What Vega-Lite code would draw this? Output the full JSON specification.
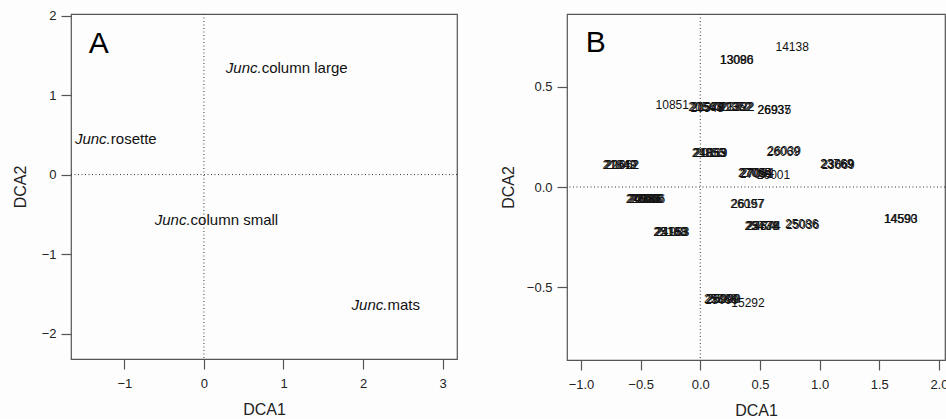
{
  "$schema": "https://vega.github.io/schema/vega-lite/v6.json",
  "padding": {"left": 11, "top": 8, "right": 0, "bottom": 0},
  "spacing": 40,
  "background": "#fdfdfd",
  "config": {
    "font": "Liberation Sans",
    "view": {"stroke": "#555", "strokeWidth": 1.2},
    "axis": {"domain": false, "grid": false, "tickColor": "#555", "tickSize": 10, "tickWidth": 1.2, "labelFont": "Liberation Sans", "labelFontSize": 13, "labelColor": "#222", "titleFont": "Liberation Sans", "titleFontSize": 16, "titleFontWeight": "normal", "titleColor": "#222"},
    "axisX": {"labelPadding": 8, "titlePadding": 11},
    "axisY": {"labelPadding": 5, "titlePadding": 13}
  },
  "datasets": {
    "a_labels": [
      {"x": 0.726, "y": 1.344, "rest": "column large"},
      {"x": -1.17, "y": 0.445, "rest": "rosette"},
      {"x": -0.167, "y": -0.575, "rest": "column small"},
      {"x": 2.306, "y": -1.646, "rest": "mats"}
    ],
    "b_labels": [
      {"x": 0.77, "y": 0.699, "label": "14138"},
      {"x": 0.303, "y": 0.633, "label": "13090"},
      {"x": 0.308, "y": 0.633, "label": "13086"},
      {"x": -0.235, "y": 0.409, "label": "10851"},
      {"x": 0.040, "y": 0.397, "label": "20543"},
      {"x": 0.050, "y": 0.399, "label": "21568"},
      {"x": 0.058, "y": 0.396, "label": "20548"},
      {"x": 0.066, "y": 0.398, "label": "21378"},
      {"x": 0.285, "y": 0.398, "label": "21372"},
      {"x": 0.295, "y": 0.400, "label": "22352"},
      {"x": 0.305, "y": 0.398, "label": "21392"},
      {"x": 0.315, "y": 0.399, "label": "23322"},
      {"x": 0.618, "y": 0.384, "label": "26937"},
      {"x": 0.622, "y": 0.386, "label": "26935"},
      {"x": 0.068, "y": 0.168, "label": "21855"},
      {"x": 0.076, "y": 0.169, "label": "24053"},
      {"x": 0.084, "y": 0.167, "label": "21863"},
      {"x": 0.092, "y": 0.168, "label": "20119"},
      {"x": 0.695, "y": 0.176, "label": "26069"},
      {"x": 0.703, "y": 0.177, "label": "26039"},
      {"x": -0.680, "y": 0.110, "label": "21842"},
      {"x": -0.670, "y": 0.111, "label": "21049"},
      {"x": -0.660, "y": 0.109, "label": "22612"},
      {"x": -0.652, "y": 0.110, "label": "21062"},
      {"x": 1.143, "y": 0.113, "label": "23769"},
      {"x": 1.150, "y": 0.114, "label": "23069"},
      {"x": 1.155, "y": 0.112, "label": "23669"},
      {"x": 0.455, "y": 0.068, "label": "27095"},
      {"x": 0.463, "y": 0.069, "label": "27054"},
      {"x": 0.471, "y": 0.067, "label": "27091"},
      {"x": 0.479, "y": 0.068, "label": "27084"},
      {"x": 0.614, "y": 0.060, "label": "26001"},
      {"x": -0.485, "y": -0.061, "label": "21000"},
      {"x": -0.475, "y": -0.060, "label": "24888"},
      {"x": -0.465, "y": -0.062, "label": "20366"},
      {"x": -0.455, "y": -0.061, "label": "22888"},
      {"x": -0.445, "y": -0.060, "label": "28000"},
      {"x": -0.435, "y": -0.061, "label": "26666"},
      {"x": 0.392, "y": -0.086, "label": "26097"},
      {"x": 0.400, "y": -0.087, "label": "26157"},
      {"x": 0.510, "y": -0.194, "label": "23474"},
      {"x": 0.518, "y": -0.193, "label": "25738"},
      {"x": 0.526, "y": -0.195, "label": "23678"},
      {"x": 0.534, "y": -0.194, "label": "24374"},
      {"x": 0.850, "y": -0.186, "label": "25086"},
      {"x": 0.858, "y": -0.187, "label": "25036"},
      {"x": -0.255, "y": -0.223, "label": "23183"},
      {"x": -0.247, "y": -0.222, "label": "25168"},
      {"x": -0.239, "y": -0.224, "label": "24153"},
      {"x": -0.231, "y": -0.223, "label": "21983"},
      {"x": 0.170, "y": -0.560, "label": "25888"},
      {"x": 0.180, "y": -0.561, "label": "28099"},
      {"x": 0.190, "y": -0.559, "label": "26999"},
      {"x": 0.198, "y": -0.560, "label": "25009"},
      {"x": 0.400, "y": -0.580, "label": "15292"},
      {"x": 1.677, "y": -0.160, "label": "14590"},
      {"x": 1.683, "y": -0.161, "label": "14593"}
    ]
  },
  "hconcat": [
    {
      "width": 386,
      "height": 345,
      "layer": [
        {
          "data": {"values": [{"x": 0}]},
          "mark": {"type": "rule", "strokeDash": [1, 2.5], "color": "#333", "strokeWidth": 1},
          "encoding": {
            "x": {"field": "x", "type": "quantitative", "title": "DCA1", "scale": {"domain": [-1.67, 3.18], "nice": false, "zero": false}, "axis": {"values": [-1, 0, 1, 2, 3], "format": "d"}}
          }
        },
        {
          "data": {"values": [{"y": 0}]},
          "mark": {"type": "rule", "strokeDash": [1, 2.5], "color": "#333", "strokeWidth": 1},
          "encoding": {
            "y": {"field": "y", "type": "quantitative", "title": "DCA2", "scale": {"domain": [-2.32, 2.02], "nice": false, "zero": false}, "axis": {"values": [-2, -1, 0, 1, 2], "format": "d"}}
          }
        },
        {
          "data": {"name": "a_labels"},
          "mark": {"type": "text", "font": "Liberation Sans", "fontSize": 15, "fontStyle": "italic", "align": "right", "baseline": "middle", "color": "#111"},
          "encoding": {
            "x": {"field": "x", "type": "quantitative", "title": "DCA1", "scale": {"domain": [-1.67, 3.18], "nice": false, "zero": false}},
            "y": {"field": "y", "type": "quantitative", "title": "DCA2", "scale": {"domain": [-2.32, 2.02], "nice": false, "zero": false}},
            "text": {"value": "Junc."}
          }
        },
        {
          "data": {"name": "a_labels"},
          "mark": {"type": "text", "font": "Liberation Sans", "fontSize": 15, "align": "left", "baseline": "middle", "color": "#111"},
          "encoding": {
            "x": {"field": "x", "type": "quantitative", "title": "DCA1", "scale": {"domain": [-1.67, 3.18], "nice": false, "zero": false}},
            "y": {"field": "y", "type": "quantitative", "title": "DCA2", "scale": {"domain": [-2.32, 2.02], "nice": false, "zero": false}},
            "text": {"field": "rest"}
          }
        },
        {
          "data": {"values": [{"x": -1.32, "y": 1.647, "t": "A"}]},
          "mark": {"type": "text", "font": "Liberation Sans", "fontSize": 30, "align": "center", "baseline": "middle", "color": "#000"},
          "encoding": {
            "x": {"field": "x", "type": "quantitative", "title": "DCA1", "scale": {"domain": [-1.67, 3.18], "nice": false, "zero": false}},
            "y": {"field": "y", "type": "quantitative", "title": "DCA2", "scale": {"domain": [-2.32, 2.02], "nice": false, "zero": false}},
            "text": {"field": "t"}
          }
        }
      ]
    },
    {
      "width": 378,
      "height": 346,
      "layer": [
        {
          "data": {"values": [{"x": 0}]},
          "mark": {"type": "rule", "strokeDash": [1, 2.5], "color": "#333", "strokeWidth": 1},
          "encoding": {
            "x": {"field": "x", "type": "quantitative", "title": "DCA1", "scale": {"domain": [-1.117, 2.051], "nice": false, "zero": false}, "axis": {"values": [-1, -0.5, 0, 0.5, 1, 1.5, 2], "format": ".1f"}}
          }
        },
        {
          "data": {"values": [{"y": 0}]},
          "mark": {"type": "rule", "strokeDash": [1, 2.5], "color": "#333", "strokeWidth": 1},
          "encoding": {
            "y": {"field": "y", "type": "quantitative", "title": "DCA2", "scale": {"domain": [-0.862, 0.862], "nice": false, "zero": false}, "axis": {"values": [-0.5, 0, 0.5], "format": ".1f", "titlePadding": 10}}
          }
        },
        {
          "data": {"name": "b_labels"},
          "mark": {"type": "text", "font": "Liberation Sans", "fontSize": 12, "align": "center", "baseline": "middle", "color": "#111"},
          "encoding": {
            "x": {"field": "x", "type": "quantitative", "title": "DCA1", "scale": {"domain": [-1.117, 2.051], "nice": false, "zero": false}},
            "y": {"field": "y", "type": "quantitative", "title": "DCA2", "scale": {"domain": [-0.862, 0.862], "nice": false, "zero": false}},
            "text": {"field": "label"}
          }
        },
        {
          "data": {"values": [{"x": -0.877, "y": 0.717, "t": "B"}]},
          "mark": {"type": "text", "font": "Liberation Sans", "fontSize": 30, "align": "center", "baseline": "middle", "color": "#000"},
          "encoding": {
            "x": {"field": "x", "type": "quantitative", "title": "DCA1", "scale": {"domain": [-1.117, 2.051], "nice": false, "zero": false}},
            "y": {"field": "y", "type": "quantitative", "title": "DCA2", "scale": {"domain": [-0.862, 0.862], "nice": false, "zero": false}},
            "text": {"field": "t"}
          }
        }
      ]
    }
  ]
}
